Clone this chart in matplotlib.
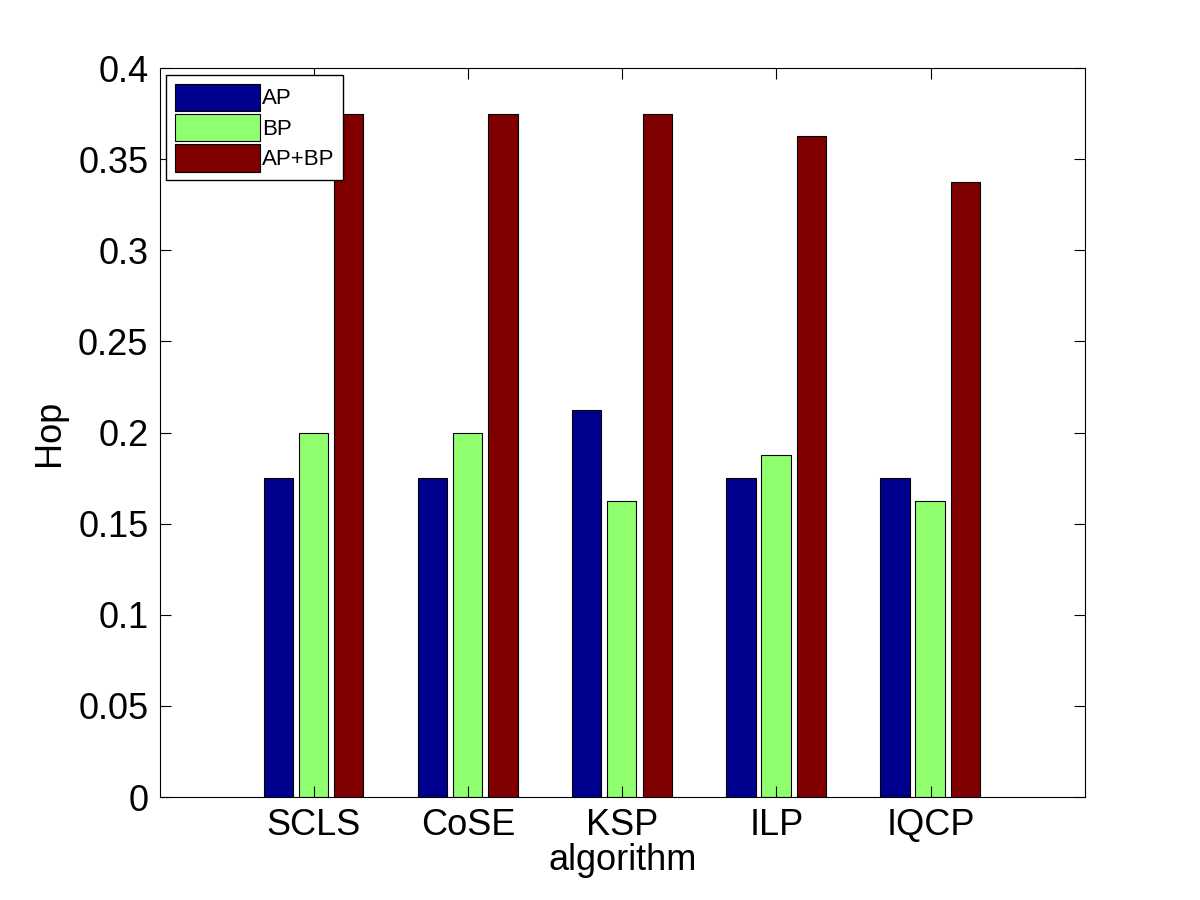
import numpy as np
import matplotlib.pyplot as plt

plt.rcParams['font.family'] = ['Liberation Sans', 'DejaVu Sans']

# 알고리즘별 Hop 값
algorithms = ['SCLS', 'CoSE', 'KSP', 'ILP', 'IQCP']
ap = [0.175, 0.175, 0.2125, 0.175, 0.175]
bp = [0.2, 0.2, 0.1625, 0.1875, 0.1625]
ap_bp = [0.375, 0.375, 0.375, 0.3625, 0.3375]

series = [('AP', ap, (0, 0, 0.5625)),
          ('BP', bp, (0.5625, 1, 0.4375)),
          ('AP+BP', ap_bp, (0.5, 0, 0))]

fig = plt.figure(figsize=(12, 9), dpi=100)
ax = fig.add_axes([0.133, 0.1144, 0.771, 0.81])

x = np.arange(1, len(algorithms) + 1)
offsets = [-0.23, -0.003, 0.227]
for (name, vals, color), off in zip(series, offsets):
    ax.bar(x + off, vals, width=0.19, color=color, edgecolor='black', linewidth=0.8, label=name)

ax.set_xlim(0, 6)
ax.set_ylim(0, 0.4)
ax.set_yticks(np.arange(0, 0.401, 0.05))
ax.set_yticklabels(['0', '0.05', '0.1', '0.15', '0.2', '0.25', '0.3', '0.35', '0.4'])
ax.set_xticks(x)
ax.set_xticklabels(algorithms)
ax.tick_params(direction='in', top=True, right=True, labelsize=26, length=8, pad=8)
ax.set_xlabel('algorithm', fontsize=26, labelpad=0)
ax.set_ylabel('Hop', fontsize=26, labelpad=8)

ax.legend(loc='upper left', fontsize=16, fancybox=False, edgecolor='black',
          framealpha=1, handlelength=3.8, handleheight=1.5, borderaxespad=0.3,
          labelspacing=0.15, handletextpad=0.1)

fig.savefig('out.png')
